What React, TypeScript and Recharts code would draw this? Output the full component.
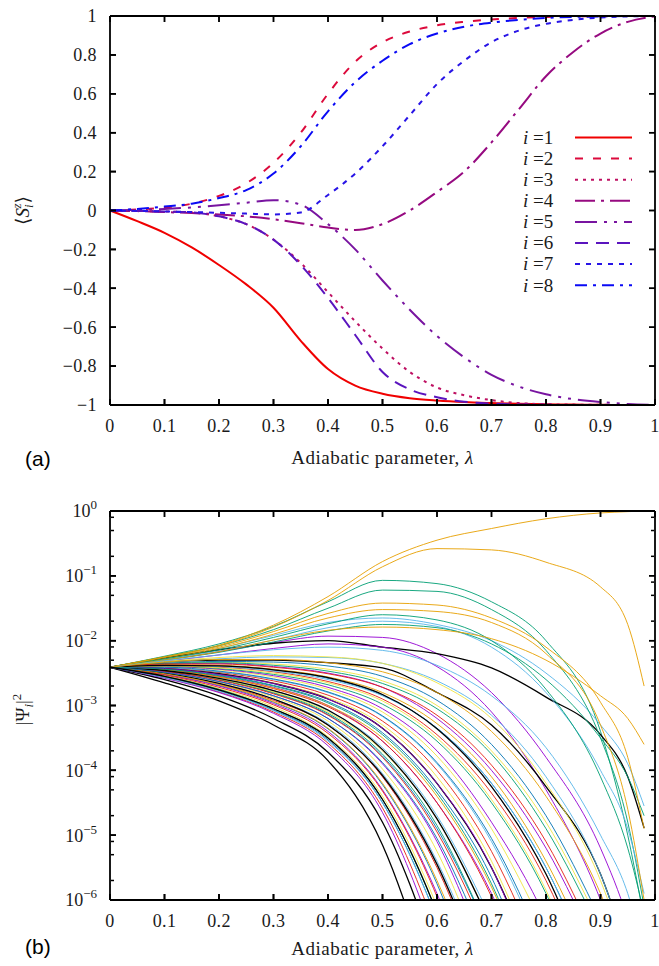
import { Legend, Line, LineChart, XAxis, YAxis } from "recharts";

// ---- panel (a): <S_i^z> vs lambda ----
const LAMBDA_TOP = [0, 0.05, 0.1, 0.15, 0.2, 0.25, 0.3, 0.35, 0.4, 0.45, 0.5, 0.55, 0.6, 0.65, 0.7, 0.75, 0.8, 0.85, 0.9, 0.95, 1];
const SZ_I1 = [0, -0.055, -0.115, -0.19, -0.28, -0.38, -0.5, -0.67, -0.815, -0.9, -0.942, -0.965, -0.977, -0.985, -0.99, -0.994, -0.996, -0.998, -0.999, -1, -1];
const SZ_I2 = [0, 0.005, 0.015, 0.035, 0.075, 0.14, 0.245, 0.4, 0.6, 0.765, 0.865, 0.92, 0.952, 0.97, 0.982, 0.99, 0.995, 0.998, 0.999, 1, 1];
const SZ_I3 = [0, -0.002, -0.005, -0.01, -0.03, -0.07, -0.15, -0.27, -0.42, -0.57, -0.71, -0.83, -0.91, -0.95, -0.975, -0.99, -0.996, -0.998, -0.999, -1, -1];
const SZ_I4 = [0, -0.003, -0.008, -0.013, -0.02, -0.03, -0.045, -0.065, -0.088, -0.1, -0.07, 0, 0.095, 0.2, 0.35, 0.52, 0.69, 0.815, 0.91, 0.97, 0.998];
const SZ_I5 = [0, 0.003, 0.008, 0.016, 0.027, 0.04, 0.053, 0.03, -0.07, -0.2, -0.36, -0.51, -0.645, -0.755, -0.845, -0.905, -0.945, -0.97, -0.985, -0.995, -1];
const SZ_I6 = [0, -0.002, -0.005, -0.01, -0.03, -0.07, -0.15, -0.28, -0.45, -0.64, -0.83, -0.92, -0.96, -0.983, -0.993, -0.997, -0.999, -1, -1, -1, -1];
const SZ_I7 = [0, -0.002, -0.005, -0.008, -0.012, -0.016, -0.02, -0.01, 0.08, 0.19, 0.33, 0.49, 0.65, 0.77, 0.865, 0.925, 0.96, 0.98, 0.992, 0.998, 1];
const SZ_I8 = [0, 0.008, 0.02, 0.035, 0.064, 0.105, 0.19, 0.33, 0.51, 0.66, 0.77, 0.855, 0.91, 0.945, 0.966, 0.98, 0.99, 0.995, 0.998, 1, 1];
const SZ_SERIES = [SZ_I1, SZ_I2, SZ_I3, SZ_I4, SZ_I5, SZ_I6, SZ_I7, SZ_I8];
const SZ_NAMES = ["1", "2", "3", "4", "5", "6", "7", "8"];

const SZ_COLORS = ["#f00000", "#dc0a3c", "#be1062", "#960a80", "#7814a0", "#5a14be", "#2814e6", "#0a0af5"];
const SZ_DASHES = [undefined, "8 10", "3 5", "20 6 3 6", "22 7 3 7 3 7", "13 8", "5 6", "12 6 3 6"];

// ---- panel (b): log10 |Psi_i|^2 vs lambda (one list per colour group) ----
const LAMBDA_PSI = [0, 0.1, 0.2, 0.3, 0.4, 0.5, 0.6, 0.7, 0.8, 0.9, 0.95, 0.98];
const PSI_PURPLE = [
  [-2.41, -2.3, -2.17, -2.03, -1.93, -1.95, -2.2, -2.8, -3.8, -5.2, -6.3, -7.2],
  [-2.41, -2.32, -2.22, -2.12, -2.05, -2.1, -2.4, -3.1, -4.3, -6.0, -7.2],
  [-2.41, -2.45, -2.55, -2.72, -3.0, -3.55, -4.5, -5.9, -8.0],
  [-2.41, -2.52, -2.7, -2.97, -3.4, -4.3, -5.9, -8.2],
  [-2.41, -2.4, -2.44, -2.54, -2.72, -3.05, -3.7, -4.8, -6.3, -8.5],
  [-2.41, -2.48, -2.63, -2.85, -3.2, -3.9, -5.1, -7.1],
  [-2.41, -2.36, -2.35, -2.4, -2.5, -2.72, -3.2, -4.0, -5.2, -6.9],
  [-2.41, -2.58, -2.8, -3.12, -3.62, -4.65, -6.7, -9.5],
  [-2.41, -2.43, -2.52, -2.66, -2.9, -3.35, -4.2, -5.5, -7.6],
];
const PSI_TEAL = [
  [-2.41, -2.24, -2.05, -1.78, -1.4, -1.07, -1.12, -1.4, -2.0, -3.4, -5.0, -6.3],
  [-2.41, -2.25, -2.08, -1.83, -1.5, -1.22, -1.24, -1.52, -2.15, -3.5, -4.8, -6.1],
  [-2.41, -2.3, -2.18, -2.02, -1.85, -1.75, -1.8, -2.05, -2.6, -3.5, -4.1, -4.7],
  [-2.41, -2.28, -2.14, -1.95, -1.74, -1.6, -1.68, -2.0, -2.75, -4.1, -5.2, -6.2],
  [-2.41, -2.47, -2.6, -2.8, -3.12, -3.75, -4.85, -6.6],
  [-2.41, -2.39, -2.43, -2.52, -2.68, -2.98, -3.55, -4.5, -5.9, -8.0],
  [-2.41, -2.55, -2.75, -3.05, -3.5, -4.45, -6.2, -8.6],
  [-2.41, -2.35, -2.34, -2.38, -2.47, -2.66, -3.05, -3.75, -4.9, -6.5],
  [-2.41, -2.44, -2.54, -2.7, -2.96, -3.45, -4.35, -5.75, -7.9],
];
const PSI_SKY = [
  [-2.41, -2.27, -2.12, -1.92, -1.72, -1.65, -1.75, -2.0, -2.5, -3.3, -3.9, -4.55],
  [-2.41, -2.29, -2.16, -1.99, -1.8, -1.7, -1.78, -2.1, -2.8, -4.0, -4.9, -5.9],
  [-2.41, -2.33, -2.28, -2.25, -2.26, -2.35, -2.62, -3.15, -4.1, -5.6, -6.8],
  [-2.41, -2.5, -2.66, -2.9, -3.28, -4.05, -5.4, -7.4],
  [-2.41, -2.42, -2.48, -2.6, -2.8, -3.17, -3.9, -5.1, -6.9],
  [-2.41, -2.46, -2.58, -2.77, -3.08, -3.65, -4.7, -6.3],
  [-2.41, -2.38, -2.4, -2.47, -2.6, -2.85, -3.35, -4.2, -5.5, -7.4],
  [-2.41, -2.57, -2.78, -3.08, -3.55, -4.5, -6.3, -8.8],
  [-2.41, -2.31, -2.22, -2.14, -2.1, -2.15, -2.38, -2.85, -3.65, -5.0, -5.9, -6.8],
];
const PSI_ORANGE = [
  [-2.41, -2.25, -2.07, -1.76, -1.32, -0.78, -0.45, -0.27, -0.12, -0.03, -0.01, 0],
  [-2.41, -2.25, -2.08, -1.79, -1.38, -0.86, -0.58, -0.6, -0.79, -1.17, -1.75, -2.7],
  [-2.41, -2.28, -2.12, -1.9, -1.65, -1.52, -1.55, -1.72, -2.2, -3.3, -4.6, -6.0],
  [-2.41, -2.3, -2.17, -1.99, -1.84, -1.79, -1.83, -1.97, -2.3, -2.85, -3.2, -3.6],
  [-2.41, -2.26, -2.1, -1.86, -1.58, -1.42, -1.45, -1.65, -2.1, -2.95, -3.8, -4.9],
  [-2.41, -2.45, -2.56, -2.73, -3.0, -3.5, -4.4, -5.8, -7.9],
  [-2.41, -2.37, -2.38, -2.44, -2.56, -2.8, -3.28, -4.1, -5.4, -7.2],
  [-2.41, -2.51, -2.68, -2.94, -3.35, -4.2, -5.7, -7.9],
  [-2.41, -2.33, -2.29, -2.29, -2.34, -2.48, -2.8, -3.4, -4.4, -5.9, -7.0],
];
const PSI_YELLOW = [
  [-2.41, -2.4, -2.45, -2.56, -2.75, -3.1, -3.78, -4.9, -6.5],
  [-2.41, -2.49, -2.64, -2.87, -3.24, -3.98, -5.25, -7.3],
  [-2.41, -2.35, -2.33, -2.36, -2.44, -2.62, -3.0, -3.7, -4.8, -6.4],
  [-2.41, -2.54, -2.74, -3.02, -3.48, -4.4, -6.1, -8.6],
  [-2.41, -2.43, -2.51, -2.65, -2.88, -3.3, -4.1, -5.4, -7.4],
  [-2.41, -2.32, -2.26, -2.23, -2.25, -2.35, -2.65, -3.2, -4.2, -5.7, -6.9],
  [-2.41, -2.46, -2.59, -2.79, -3.1, -3.7, -4.75, -6.4],
  [-2.41, -2.39, -2.42, -2.5, -2.65, -2.93, -3.5, -4.45, -5.85, -8.0],
];
const PSI_BLUE = [
  [-2.41, -2.44, -2.53, -2.69, -2.94, -3.42, -4.3, -5.65, -7.8],
  [-2.41, -2.52, -2.69, -2.95, -3.36, -4.22, -5.75, -8.1],
  [-2.41, -2.38, -2.39, -2.45, -2.58, -2.84, -3.35, -4.2, -5.5, -7.4],
  [-2.41, -2.47, -2.6, -2.81, -3.14, -3.78, -4.9, -6.6],
  [-2.41, -2.35, -2.32, -2.33, -2.39, -2.55, -2.92, -3.6, -4.7, -6.3],
  [-2.41, -2.56, -2.77, -3.07, -3.53, -4.5, -6.3, -8.9],
  [-2.41, -2.41, -2.47, -2.59, -2.79, -3.16, -3.88, -5.05, -6.8],
  [-2.41, -2.49, -2.63, -2.85, -3.2, -3.88, -5.05, -6.9],
];
const PSI_RED = [
  [-2.41, -2.5, -2.67, -2.92, -3.3, -4.1, -5.5, -7.6],
  [-2.41, -2.42, -2.49, -2.62, -2.84, -3.24, -4.0, -5.25, -7.1],
  [-2.41, -2.57, -2.79, -3.1, -3.58, -4.58, -6.5, -9.2],
  [-2.41, -2.45, -2.56, -2.74, -3.02, -3.55, -4.5, -5.95, -8.1],
  [-2.41, -2.39, -2.41, -2.48, -2.63, -2.9, -3.45, -4.35, -5.7, -7.7],
  [-2.41, -2.53, -2.72, -2.99, -3.43, -4.32, -5.95, -8.4],
  [-2.41, -2.47, -2.61, -2.82, -3.15, -3.8, -4.95, -6.7],
  [-2.41, -2.36, -2.36, -2.41, -2.51, -2.72, -3.15, -3.92, -5.1, -6.8],
];
const PSI_BLACK = [
  [-2.41, -2.27, -2.14, -2.04, -2.0, -2.1, -2.2, -2.42, -2.87, -3.45, -4.1, -4.89],
  [-2.41, -2.33, -2.3, -2.3, -2.34, -2.42, -2.8, -3.3, -4.25, -5.6, -6.8],
  [-2.41, -2.65, -2.93, -3.3, -3.85, -5.15, -7.6],
  [-2.41, -2.6, -2.85, -3.2, -3.72, -4.8, -6.9],
  [-2.41, -2.5, -2.66, -2.9, -3.3, -4.08, -5.45, -7.5],
  [-2.41, -2.43, -2.51, -2.66, -2.9, -3.35, -4.2, -5.5, -7.5],
  [-2.41, -2.46, -2.58, -2.77, -3.07, -3.68, -4.75, -6.4],
  [-2.41, -2.38, -2.39, -2.45, -2.57, -2.83, -3.36, -4.25, -5.6, -7.6],
  [-2.41, -2.55, -2.76, -3.05, -3.5, -4.45, -6.2, -8.8],
];
const PSI_GROUPS = [PSI_PURPLE, PSI_TEAL, PSI_SKY, PSI_ORANGE, PSI_YELLOW, PSI_BLUE, PSI_RED, PSI_BLACK];
const PSI_COLORS = ["#9400d3", "#009e73", "#56b4e9", "#e69f00", "#f0e442", "#0072b2", "#e51e10", "#000000"];

const X_TICKS = [0, 0.1, 0.2, 0.3, 0.4, 0.5, 0.6, 0.7, 0.8, 0.9, 1];
const SZ_TICKS = [-1, -0.8, -0.6, -0.4, -0.2, 0, 0.2, 0.4, 0.6, 0.8, 1];
const PSI_MAJOR = [1e-6, 1e-5, 1e-4, 1e-3, 1e-2, 0.1, 1];
const PSI_MINOR = [2e-6, 5e-6, 8e-6, 2e-5, 5e-5, 8e-5, 2e-4, 5e-4, 8e-4, 2e-3, 5e-3, 8e-3, 2e-2, 5e-2, 8e-2, 0.2, 0.5, 0.8];

const FONT = { fontFamily: "Liberation Serif, DejaVu Serif, Noto Serif, serif" };
const INK = "#1a1a1a";
const AXIS_LINE = { stroke: "#000", strokeWidth: 1.8 };
const TICK_LINE = { stroke: "#000", strokeWidth: 1.5 };

const topRows = LAMBDA_TOP.map((lam, j) => {
  const row: Record<string, number> = { lam };
  SZ_SERIES.forEach((s, i) => (row[`i${i + 1}`] = s[j]));
  return row;
});

const psiCurves: { key: string; group: number; values: number[] }[] = [];
const maxGroup = Math.max(...PSI_GROUPS.map((g) => g.length));
for (let n = 0; n < maxGroup; n++) {
  PSI_GROUPS.forEach((g, gi) => {
    if (g[n]) psiCurves.push({ key: `c${gi}_${n}`, group: gi, values: g[n] });
  });
}
const psiRows = LAMBDA_PSI.map((lam, j) => {
  const row: Record<string, number | null> = { lam };
  psiCurves.forEach((c) => {
    const e = c.values[j];
    row[c.key] = e === undefined ? null : 10 ** e;
  });
  return row;
});

const NoTick = () => <g />;

// tick label plus inward marks on both frame sides
const makeXTick = (plotTop: number, plotBottom: number) => (props: any) => {
  const { x, y, payload } = props;
  return (
    <g>
      <path d={`M${x},${plotBottom}v-6M${x},${plotTop}v6`} stroke="#000" strokeWidth={1.5} fill="none" />
      <text x={x} y={y} dy="0.71em" textAnchor="middle" fontSize={18} fill={INK} letterSpacing={0.4} style={FONT}>
        {String(payload.value)}
      </text>
    </g>
  );
};

const makeSzTick = (plotLeft: number, plotRight: number) => (props: any) => {
  const { x, y, payload } = props;
  return (
    <g>
      <path d={`M${plotLeft},${y}h6M${plotRight},${y}h-6`} stroke="#000" strokeWidth={1.5} fill="none" />
      <text x={x} y={y} dy="0.355em" textAnchor="end" fontSize={18} fill={INK} letterSpacing={0.4} style={FONT}>
        {String(payload.value).replace("-", "\u2212")}
      </text>
    </g>
  );
};

const makeLogTick = (plotLeft: number, plotRight: number) => (props: any) => {
  const { x, y, payload } = props;
  const exp = Math.round(Math.log10(payload.value));
  return (
    <g>
      <path d={`M${plotLeft},${y}h6M${plotRight},${y}h-6`} stroke="#000" strokeWidth={1.5} fill="none" />
      <text x={x} y={y} dy="0.355em" textAnchor="end" fontSize={18} fill={INK} style={FONT}>
        10
        <tspan dy={-8} fontSize={13}>
          {exp === 0 ? "0" : `\u2212${-exp}`}
        </tspan>
      </text>
    </g>
  );
};

const xTitle = (tag: string, dyTitle: number, tagY: number) => (props: any) => {
  const { x, y, width } = props.viewBox;
  return (
    <g>
      <text x={x + width / 2} y={y + dyTitle} textAnchor="middle" fontSize={19} letterSpacing={0.5} fill={INK} style={FONT}>
        Adiabatic parameter, <tspan fontStyle="italic">λ</tspan>
      </text>
      <text x={25} y={tagY} fontSize={21} fill="#000" style={{ fontFamily: "Liberation Sans, Arial, sans-serif" }}>
        {tag}
      </text>
    </g>
  );
};

const szTitle = (props: any) => {
  const { y, height } = props.viewBox;
  return (
    <text transform={`translate(29, ${y + height / 2}) rotate(-90)`} textAnchor="middle" fontSize={19} fill={INK} style={FONT}>
      ⟨<tspan fontStyle="italic">S</tspan>
      <tspan fontStyle="italic" fontSize={13} dy={4}>i</tspan>
      <tspan fontStyle="italic" fontSize={13} dx={-4} dy={-12}>z</tspan>
      <tspan dy={8}>⟩</tspan>
    </text>
  );
};

const psiTitle = (props: any) => {
  const { y, height } = props.viewBox;
  return (
    <text transform={`translate(29, ${y + height / 2 + 4}) rotate(-90)`} textAnchor="middle" fontSize={19} fill={INK} style={FONT}>
      |Ψ<tspan fontStyle="italic" fontSize={13} dy={4}>i</tspan>
      <tspan dy={-4}>|</tspan>
      <tspan fontSize={13} dy={-8}>2</tspan>
    </text>
  );
};

function SzLegend() {
  return (
    <svg width={130} height={190} style={{ display: "block" }}>
      {SZ_NAMES.map((name, i) => {
        const cy = 12.5 + i * 21.1;
        return (
          <g key={name}>
            <text x={8} y={cy + 6.3} fontSize={19} fill={INK} style={FONT}>
              <tspan fontStyle="italic">i</tspan> ={name}
            </text>
            <line x1={60} x2={117} y1={cy} y2={cy} stroke={SZ_COLORS[i]} strokeWidth={2} strokeDasharray={SZ_DASHES[i]} />
          </g>
        );
      })}
    </svg>
  );
}

// mirrored frame axes: box lines plus inward tick marks on all four sides
const frameX = () => [
  <XAxis key="xb" xAxisId="xb" dataKey="lam" type="number" domain={[0, 1]} ticks={X_TICKS} interval={0} mirror height={1}
    tick={NoTick} tickSize={6} tickLine={TICK_LINE} axisLine={AXIS_LINE} />,
  <XAxis key="xt" xAxisId="xt" dataKey="lam" orientation="top" type="number" domain={[0, 1]} ticks={X_TICKS} interval={0} mirror height={1}
    tick={NoTick} tickSize={6} tickLine={TICK_LINE} axisLine={AXIS_LINE} />,
];

export default function App() {
  return (
    <div style={{ position: "absolute", left: 0, top: 0, width: 659, height: 966, background: "#fff" }}>
      <div style={{ position: "absolute", left: 0, top: 0 }}>
        <LineChart width={659} height={480} data={topRows} margin={{ top: 16, right: 4, bottom: 15, left: 0 }}>
          <XAxis dataKey="lam" type="number" domain={[0, 1]} ticks={X_TICKS} interval={0} height={60}
            axisLine={false} tickLine={TICK_LINE} tickSize={-6} tickMargin={20}
            tick={makeXTick(16, 405)}
            label={{ content: xTitle("(a)", 59, 466) }} />
          <YAxis type="number" domain={[-1, 1]} ticks={SZ_TICKS} interval={0} width={110}
            axisLine={false} tickLine={TICK_LINE} tickSize={-6} tickMargin={19}
            tick={makeSzTick(110, 655)}
            label={{ content: szTitle }} />
          {frameX()}
          <YAxis yAxisId="yl" dataKey="i1" type="number" domain={[-1, 1]} ticks={SZ_TICKS} interval={0} mirror width={1}
            tick={NoTick} tickSize={6} tickLine={TICK_LINE} axisLine={AXIS_LINE} />
          <YAxis yAxisId="yr" dataKey="i1" orientation="right" type="number" domain={[-1, 1]} ticks={SZ_TICKS} interval={0} mirror width={1}
            tick={NoTick} tickSize={6} tickLine={TICK_LINE} axisLine={AXIS_LINE} />
          {SZ_SERIES.map((_, i) => (
            <Line key={i} dataKey={`i${i + 1}`} type="monotone" stroke={SZ_COLORS[i]} strokeWidth={2}
              strokeDasharray={SZ_DASHES[i]} dot={false} activeDot={false} isAnimationActive={false} />
          ))}
          <Legend layout="vertical" align="center" verticalAlign="middle"
            wrapperStyle={{ left: 515, top: 125, width: 130, height: 190 }} content={SzLegend} />
        </LineChart>
      </div>
      <div style={{ position: "absolute", left: 0, top: 480 }}>
        <LineChart width={659} height={486} data={psiRows} margin={{ top: 31, right: 4, bottom: 6, left: 0 }}>
          <XAxis dataKey="lam" type="number" domain={[0, 1]} ticks={X_TICKS} interval={0} height={60}
            axisLine={false} tickLine={TICK_LINE} tickSize={-6} tickMargin={20}
            tick={makeXTick(31, 420)}
            label={{ content: xTitle("(b)", 55, 474) }} />
          <YAxis type="number" scale="log" domain={[1e-6, 1]} allowDataOverflow ticks={PSI_MAJOR} interval={0} width={110}
            axisLine={false} tickLine={TICK_LINE} tickSize={-6} tickMargin={19}
            tick={makeLogTick(110, 655)}
            label={{ content: psiTitle }} />
          {frameX()}
          <YAxis yAxisId="yl" dataKey="c0_0" type="number" scale="log" domain={[1e-6, 1]} allowDataOverflow ticks={PSI_MAJOR} interval={0} mirror width={1}
            tick={NoTick} tickSize={6} tickLine={TICK_LINE} axisLine={AXIS_LINE} />
          <YAxis yAxisId="yl2" dataKey="c0_0" type="number" scale="log" domain={[1e-6, 1]} allowDataOverflow ticks={PSI_MINOR} interval={0} mirror width={1}
            tick={NoTick} tickSize={3} tickLine={TICK_LINE} axisLine={false} />
          <YAxis yAxisId="yr" dataKey="c0_0" orientation="right" type="number" scale="log" domain={[1e-6, 1]} allowDataOverflow ticks={PSI_MAJOR} interval={0} mirror width={1}
            tick={NoTick} tickSize={6} tickLine={TICK_LINE} axisLine={AXIS_LINE} />
          <YAxis yAxisId="yr2" dataKey="c0_0" orientation="right" type="number" scale="log" domain={[1e-6, 1]} allowDataOverflow ticks={PSI_MINOR} interval={0} mirror width={1}
            tick={NoTick} tickSize={3} tickLine={TICK_LINE} axisLine={false} />
          {psiCurves.map((c) => (
            <Line key={c.key} dataKey={c.key} type="monotone" stroke={PSI_COLORS[c.group]}
              strokeWidth={c.group === 7 ? 1.3 : 0.9} dot={false} activeDot={false} isAnimationActive={false} />
          ))}
        </LineChart>
      </div>
    </div>
  );
}
